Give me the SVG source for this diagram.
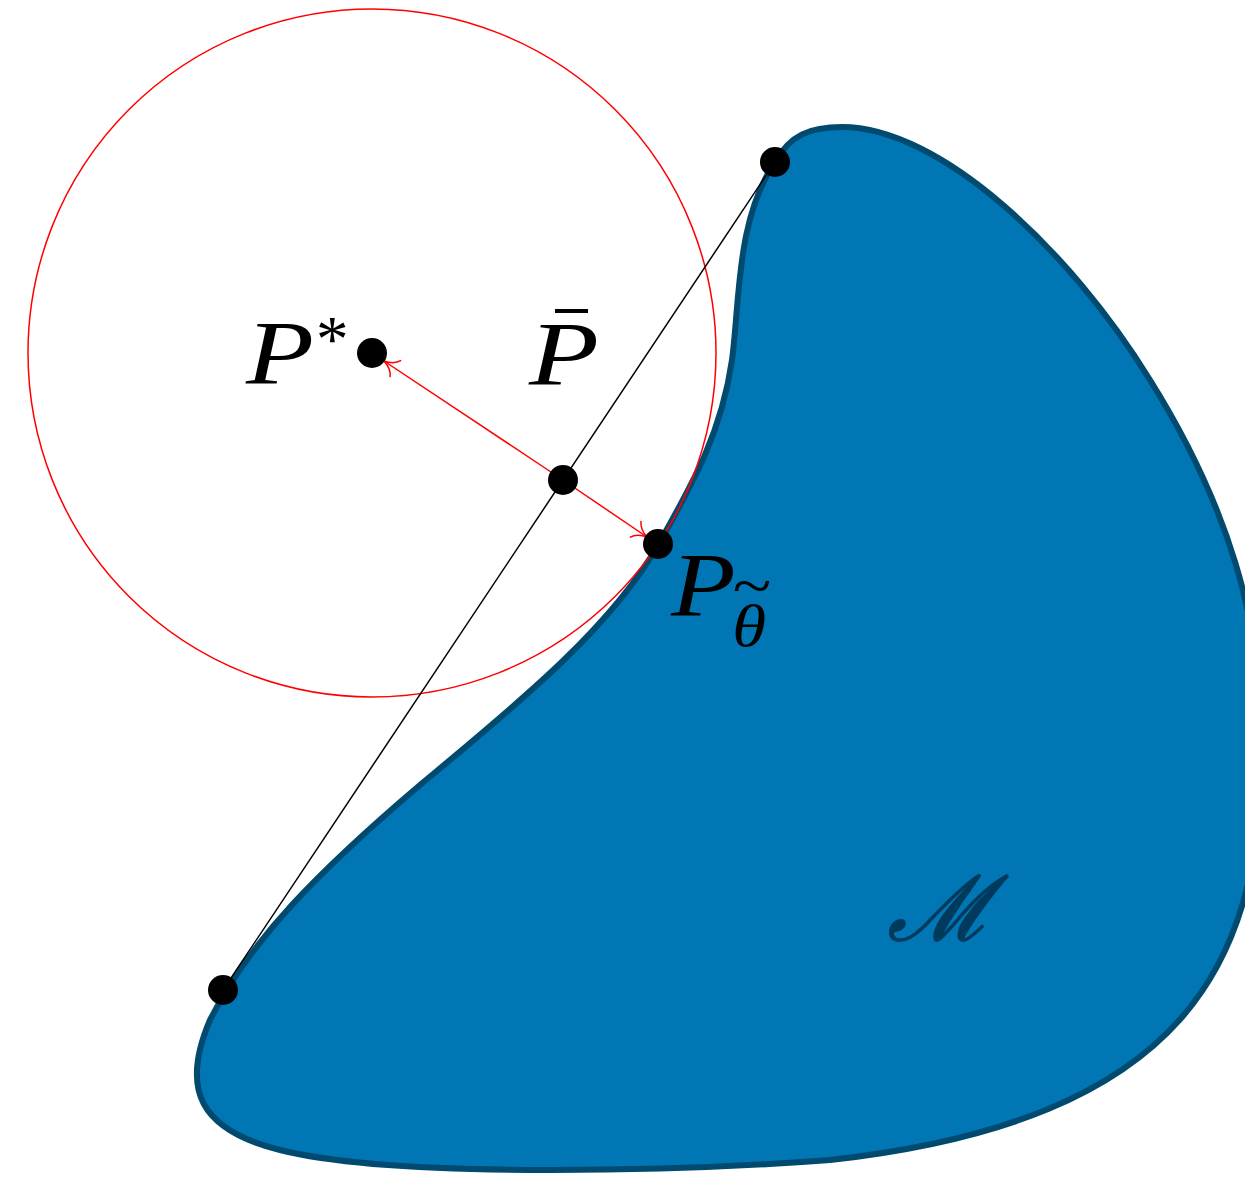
<svg xmlns="http://www.w3.org/2000/svg" width="1245" height="1179" viewBox="0 0 1245 1179">
<style>
.lbl{font-family:"Liberation Serif","DejaVu Serif",serif;font-style:italic;fill:#000}
.dot{fill:#000}
</style>
<defs>
<marker id="to" viewBox="-18 -12 20 24" markerWidth="20" markerHeight="24" refX="0" refY="0" orient="auto" markerUnits="userSpaceOnUse">
<path d="M -14 -10 C -11 -4, -4 -1, 0 0 C -4 1, -11 4, -14 10" fill="none" stroke="#ff0000" stroke-width="1.5"/>
</marker>
</defs>
<g id="manifold">
<path d="M 775 162 C 790 135, 810 127, 842 127 C 940 127, 1070 250, 1150 380 C 1225 500, 1265 620, 1262 760 C 1258 960, 1190 1120, 830 1160 C 700 1170, 400 1180, 280 1150 C 200 1130, 180 1090, 210 1020 C 250 940, 320 870, 420 785 C 510 710, 610 630, 658 545 C 695 480, 722 430, 732 360 C 740 300, 736 220, 775 162 Z" fill="#0077b4" stroke="#00496f" stroke-width="6"/>
<text x="888" y="940" font-family="DejaVu Serif, serif" font-style="italic" font-size="90" fill="#003a5c" stroke="#003a5c" stroke-width="2">ℳ</text>
</g>
<g id="ball">
<circle cx="372" cy="353" r="344" fill="none" stroke="#ff0000" stroke-width="1.5"/>
</g>
<g id="connectors">
<line x1="775" y1="162" x2="223" y2="990" stroke="#000" stroke-width="1.5"/>
<line x1="563" y1="480" x2="384" y2="361" stroke="#ff0000" stroke-width="1.5" marker-end="url(#to)"/>
<line x1="563" y1="480" x2="647" y2="537" stroke="#ff0000" stroke-width="1.5" marker-end="url(#to)"/>
</g>
<g id="Pstar">
<circle class="dot" cx="372" cy="353" r="15"/>
<text class="lbl" x="246" y="384" font-size="92" textLength="68" lengthAdjust="spacingAndGlyphs">P</text>
<text x="316" y="361" font-family="Liberation Serif, serif" font-size="65">*</text>
</g>
<g id="Pbar">
<circle class="dot" cx="563" cy="480" r="15"/>
<text class="lbl" x="529" y="385" font-size="92" textLength="70" lengthAdjust="spacingAndGlyphs">P</text>
<line x1="555" y1="311" x2="588" y2="311" stroke="#000" stroke-width="4"/>
</g>
<g id="Ptheta">
<circle class="dot" cx="658" cy="544" r="15"/>
<text class="lbl" transform="translate(671,616) scale(1.15,1)" x="0" y="0" font-size="92">P<tspan font-size="60" dx="-3" dy="30">θ</tspan><tspan font-style="normal" font-size="62" dx="-29" dy="-40">~</tspan></text>
</g>
<g id="top">
<circle class="dot" cx="775" cy="162" r="15"/>
</g>
<g id="bottom">
<circle class="dot" cx="223" cy="990" r="15"/>
</g>
</svg>
